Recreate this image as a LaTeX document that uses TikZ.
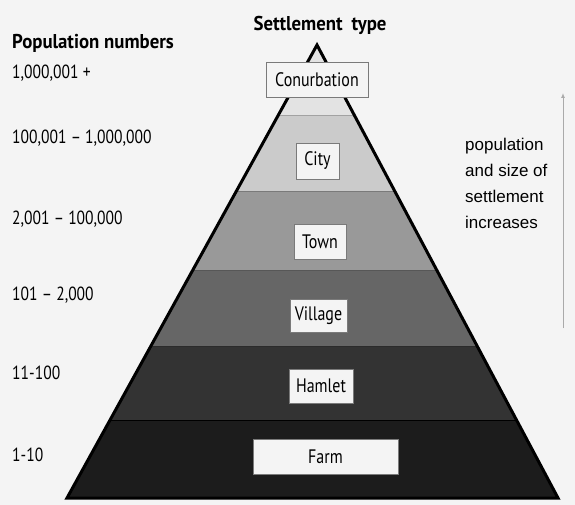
\documentclass[tikz,border=0pt]{standalone}
\usepackage{fontspec}
\setmainfont{PT Sans}
\newfontfamily\labelfont[FakeStretch=0.82]{PT Sans}
\newfontfamily\headfont[FakeStretch=0.94]{PT Sans}
\newfontfamily\arialfont{Liberation Sans}
\usetikzlibrary{arrows.meta}

\definecolor{bgcol}{HTML}{F4F4F4}
\definecolor{bandA}{HTML}{E3E3E3}
\definecolor{bandB}{HTML}{CBCBCB}
\definecolor{bandC}{HTML}{999999}
\definecolor{bandD}{HTML}{666666}
\definecolor{bandE}{HTML}{333333}
\definecolor{bandF}{HTML}{1C1C1C}
\definecolor{boxline}{HTML}{7A7A7A}
\definecolor{arrowcol}{HTML}{AAAAAA}

\tikzset{
  poplabel/.style={anchor=west, inner sep=0pt, font=\labelfont\fontsize{19}{22}\selectfont},
  heading/.style={inner sep=0pt, font=\headfont\bfseries\fontsize{20}{23}\selectfont},
  typebox/.style={draw=boxline, line width=0.8pt, fill=bgcol, inner sep=0pt,
    font=\labelfont\fontsize{19.5}{22}\selectfont},
  bandsep/.style={line width=0.8pt},
}

\begin{document}
\begin{tikzpicture}[x=1pt,y=-1pt]
  % canvas
  \fill[bgcol] (0,0) rectangle (575,505);
  \useasboundingbox (0,0) rectangle (575,505);

  % pyramid corners
  \coordinate (apex) at (317,45);
  \coordinate (bl) at (67,498);
  \coordinate (br) at (558,498);

  % shaded bands, clipped to the pyramid
  \begin{scope}
    \clip (apex) -- (bl) -- (br) -- cycle;
    \fill[bandA] (0,30)  rectangle (575,115);
    \fill[bandB] (0,115) rectangle (575,191);
    \fill[bandC] (0,191) rectangle (575,270);
    \fill[bandD] (0,270) rectangle (575,346);
    \fill[bandE] (0,346) rectangle (575,420);
    \fill[bandF] (0,420) rectangle (575,500);
    \draw[bandsep, draw=bandB!80!black] (0,115) -- (575,115);
    \draw[bandsep, draw=bandC!80!black] (0,191) -- (575,191);
    \draw[bandsep, draw=bandD!85!black] (0,270) -- (575,270);
    \draw[bandsep, draw=bandE!85!black] (0,346) -- (575,346);
    \draw[bandsep, draw=black] (0,420) -- (575,420);
  \end{scope}

  % pyramid outline
  \draw[line width=3pt, line join=miter] (apex) -- (bl) -- (br) -- cycle;

  % headings
  \node[heading, anchor=west] (popHead) at (12,43) {Population numbers};
  \node[heading] (typeHead) at (320,25) {Settlement\hspace{0.45em}type};

  % population ranges
  \node[poplabel] (p1) at (12,73)  {1,000,001 +};
  \node[poplabel] (p2) at (12,138) {100,001 – 1,000,000};
  \node[poplabel] (p3) at (12,219) {2,001 – 100,000};
  \node[poplabel] (p4) at (12,295) {101 – 2,000};
  \node[poplabel] (p5) at (12,373) {11-100};
  \node[poplabel] (p6) at (12,455) {1-10};

  % settlement types
  \node[typebox, minimum width=102pt, minimum height=35pt] (conurb)  at (317,79.5)  {Conurbation};
  \node[typebox, minimum width=43pt,  minimum height=36pt] (city)    at (317.5,161) {City};
  \node[typebox, minimum width=52pt,  minimum height=35pt] (town)    at (320,241.5) {Town};
  \node[typebox, minimum width=57pt,  minimum height=33pt] (village) at (318.5,315.5){Village};
  \node[typebox, minimum width=64pt,  minimum height=34pt] (hamlet)  at (321,386)   {Hamlet};
  \node[typebox, minimum width=145pt, minimum height=35pt] (farm)    at (325.5,456.5){Farm};

  % growth arrow and its note
  \coordinate (arrowFoot) at (563,328);
  \coordinate (arrowTip) at (563,93);
  \draw[arrowcol, line width=1pt, -{Latex[length=5pt,width=4pt]}] (arrowFoot) -- (arrowTip);
  \node[anchor=north west, inner sep=0pt, align=left,
        font=\arialfont\fontsize{17}{26}\selectfont] (note) at (465,137.5)
        {population\\and size of\\settlement\\increases};
\end{tikzpicture}
\end{document}
